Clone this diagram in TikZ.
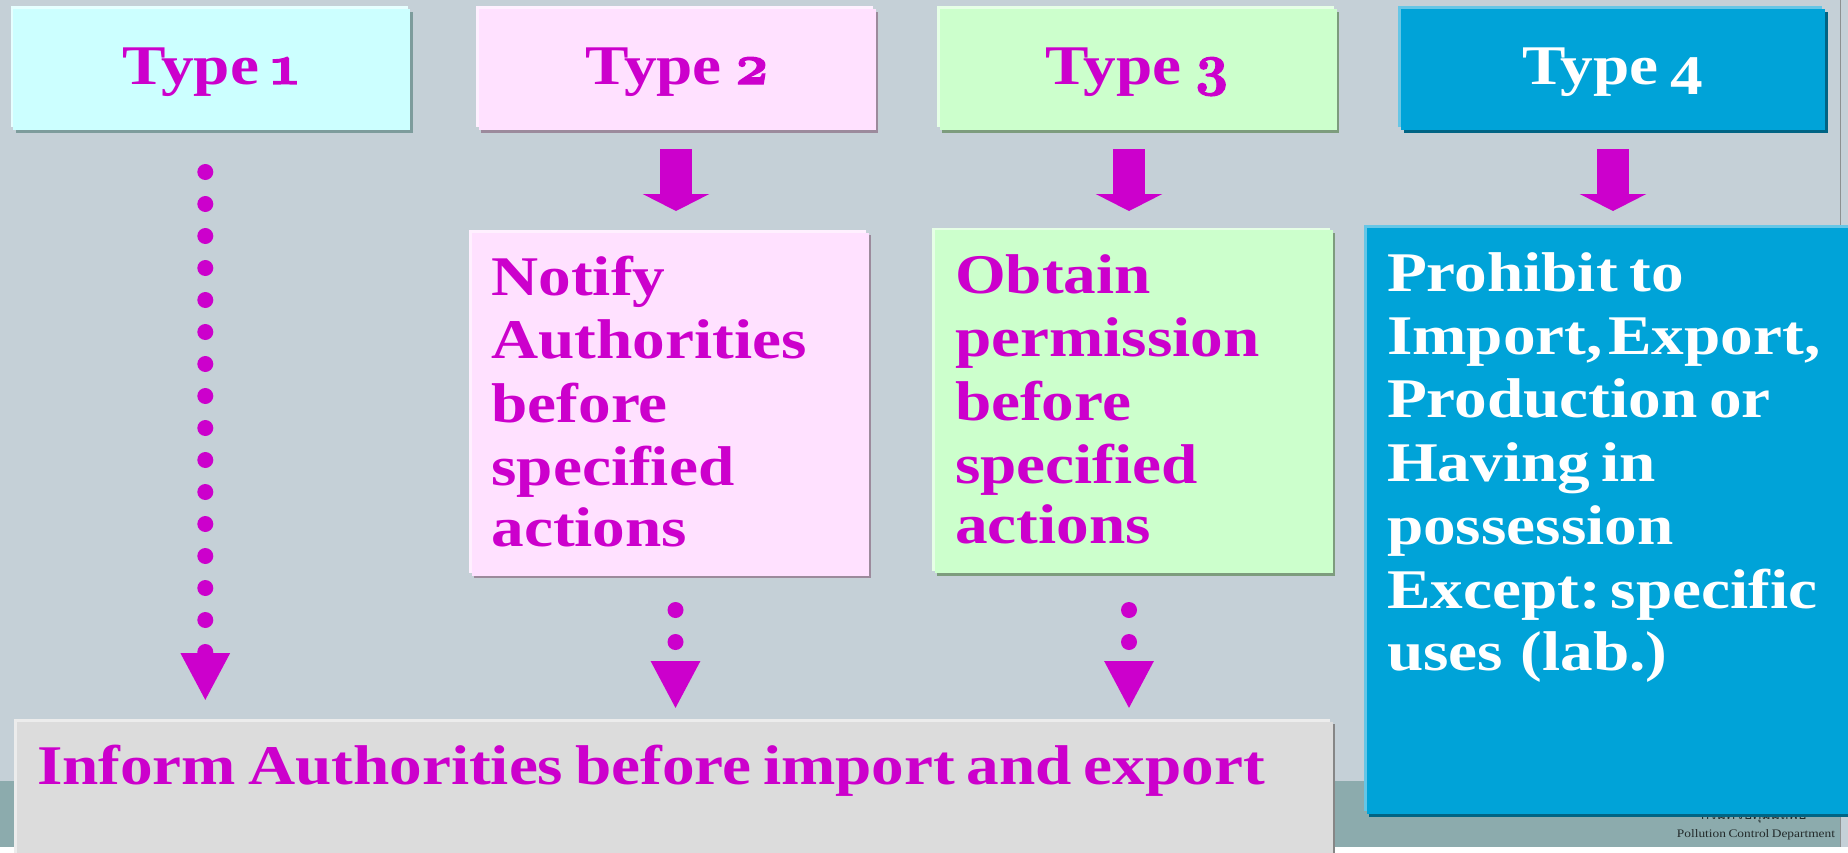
\documentclass[tikz,border=0pt]{standalone}
\usepackage{fontspec}
\usetikzlibrary{shadows,arrows.meta}
\setmainfont{Liberation Serif}[FakeStretch=1.165,WordSpace=0.72]
\newfontfamily\digitf{Latin Modern Roman}[Numbers=OldStyle,FakeBold=2.2]
\newfontfamily\thaifont[Script=Thai]{Loma}
\newcommand\dg[1]{{\fontsize{58}{63.4}\selectfont\digitf\bfseries #1}}
\definecolor{slide}{HTML}{C5D0D7}
\definecolor{band}{HTML}{8CABAD}
\definecolor{mag}{HTML}{CC00CC}
\definecolor{cyanF}{HTML}{CCFFFF}\definecolor{cyanH}{HTML}{E6FFFF}\definecolor{cyanS}{HTML}{7D9C9C}
\definecolor{pinkF}{HTML}{FFE1FF}\definecolor{pinkH}{HTML}{FFF0FF}\definecolor{pinkS}{HTML}{9C8A9C}
\definecolor{greenF}{HTML}{CCFFCC}\definecolor{greenH}{HTML}{E6FFE6}\definecolor{greenS}{HTML}{7D9C7D}
\definecolor{blueF}{HTML}{00A3D8}\definecolor{blueH}{HTML}{66C6E6}\definecolor{blueS}{HTML}{006484}
\definecolor{greyF}{HTML}{DCDCDC}\definecolor{greyH}{HTML}{ECECEC}\definecolor{greyS}{HTML}{868686}
\tikzset{
  slab/.style n args={5}{anchor=north west,inner sep=0pt,outer sep=0pt,minimum width=#1pt,minimum height=#2pt,fill=#3,
    general shadow={fill=#4,shadow xshift=-2.6pt,shadow yshift=2.6pt},
    general shadow={fill=#5,shadow xshift=2.8pt,shadow yshift=-2.8pt}},
  bigtext/.style={inner sep=0pt,outer sep=0pt,font=\fontsize{56}{63.4}\selectfont\bfseries,text=#1,align=left},
  blockarrow/.style={draw=mag,line width=32pt,-{Triangle[length=17pt,width=66pt,fill=mag]}},
  dotline/.style={draw=mag,line width=16pt,line cap=round,dash pattern=on 0pt off 32pt,-{Triangle[length=48pt,width=46pt,fill=mag,line cap=butt,sep=0pt]}},
}
\begin{document}
\begin{tikzpicture}[x=1pt,y=1pt]
\useasboundingbox (0,0) rectangle (1848,-852);
\clip (0,0) rectangle (1848,-852);
\fill[slide] (0,0) rectangle (1848,-852);
\fill[white] (0,-847) rectangle (1848,-852);
\fill[band] (0,-781) rectangle (1840,-847);
\draw[line width=1pt,color=gray!80!slide] (1840,0) -- (1840,-847);
\node[inner sep=0pt,text=black!75!band,font=\fontsize{14}{14}\selectfont\thaifont,anchor=base] (logoth) at (1754,-819) {กรมควบคุมมลพิษ};
\node[inner sep=0pt,text=black!75!band,font=\fontsize{11.5}{12}\selectfont,anchor=base] (logoen) at (1756,-837) {Pollution Control Department};
% top row
\node[slab={397}{121}{cyanF}{cyanH}{cyanS}] (b1) at (13.2,-9) {};
\node[slab={397}{121}{pinkF}{pinkH}{pinkS}] (b2) at (478.6,-9) {};
\node[slab={397}{121}{greenF}{greenH}{greenS}] (b3) at (939.6,-9) {};
\node[slab={424}{121}{blueF}{blueH}{blueS}] (b4) at (1401,-9) {};
\node[bigtext=mag,anchor=base] (t1) at (210.7,-84) {Type \dg{1}};
\node[bigtext=mag,anchor=base] (t2) at (677.5,-84) {Type \dg{2}};
\node[bigtext=mag,anchor=base] (t3) at (1137.5,-84) {Type \dg{3}};
\node[bigtext=white,anchor=base] (t4) at (1612.5,-84) {Type \raisebox{-10pt}{4}};
% second row
\node[slab={397}{343}{pinkF}{pinkH}{pinkS}] (n2) at (471.6,-232.6) {};
\node[slab={398}{343}{greenF}{greenH}{greenS}] (n3) at (934.6,-230.3) {};
\node[slab={500}{586}{blueF}{blueH}{blueS}] (n4) at (1366.6,-228) {};
\node[slab={1316}{200}{greyF}{greyH}{greyS}] (inf) at (16.6,-721.6) {};
\node[bigtext=mag,anchor=base west] (n2t) at (491.5,-546) {Notify\\Authorities\\before\\specified\\[-2.8pt]actions};
\node[bigtext=mag,anchor=base west] (n3t) at (955,-543.3) {Obtain\\permission\\before\\specified\\[-3.6pt]actions};
\node[bigtext=white,anchor=base west] (n4t) at (1387,-670) {Prohibit to\\Import,\hspace{-6pt} Export,\\Production or\\Having in\\possession\\Except:\hspace{-7pt} specific\\[-1.5pt]uses\hspace{6pt} (lab.)};
\node[bigtext=mag,anchor=base west] (inft) at (37,-784) {Inform Authorities before import and export};
% block arrows
\coordinate (a2a) at (676,-149); \coordinate (a2b) at (676,-211);
\coordinate (a3a) at (1129,-149); \coordinate (a3b) at (1129,-211);
\coordinate (a4a) at (1613,-149); \coordinate (a4b) at (1613,-211);
\draw[blockarrow] (a2a) -- (a2b);
\draw[blockarrow] (a3a) -- (a3b);
\draw[blockarrow] (a4a) -- (a4b);
% dotted arrows
\coordinate (d1a) at (205.3,-172); \coordinate (d1b) at (205.3,-701);
\coordinate (d2a) at (675.5,-610); \coordinate (d2b) at (675.5,-709);
\coordinate (d3a) at (1129,-610); \coordinate (d3b) at (1129,-709);
\draw[dotline] (d1a) -- (d1b);
\draw[dotline] (d2a) -- (d2b);
\draw[dotline] (d3a) -- (d3b);
\end{tikzpicture}
\end{document}
